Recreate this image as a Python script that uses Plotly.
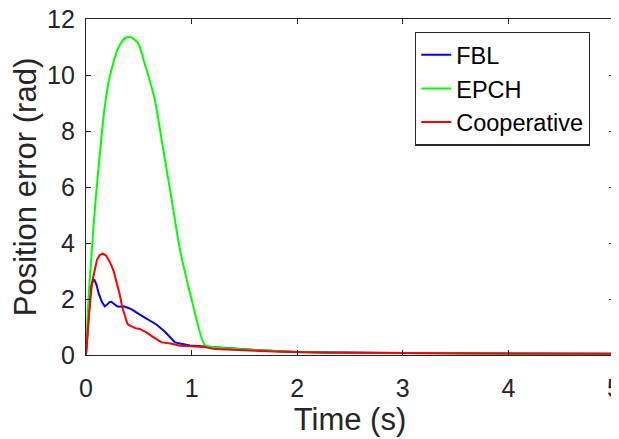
import plotly.graph_objects as go

# FBL response
t_fbl = [0, 0.02, 0.045, 0.07, 0.08, 0.1, 0.12, 0.15, 0.177, 0.2, 0.22, 0.24, 0.265, 0.294, 0.32,
         0.357, 0.4, 0.436, 0.51, 0.59, 0.67, 0.75, 0.843, 0.9, 0.985, 1.127, 1.3, 1.6, 2.0, 2.5,
         3.0, 4.0, 5.0]
e_fbl = [0, 1.2, 2.4, 2.7, 2.68, 2.5, 2.2, 1.9, 1.74, 1.8, 1.88, 1.9, 1.84, 1.74, 1.72,
         1.74, 1.68, 1.62, 1.44, 1.27, 1.08, 0.82, 0.45, 0.4, 0.34, 0.3, 0.25, 0.18, 0.11, 0.08,
         0.07, 0.05, 0.04]

# EPCH response
t_epch = [0, 0.01, 0.025, 0.06, 0.09, 0.123, 0.17, 0.218, 0.26, 0.297, 0.35, 0.38, 0.407, 0.45,
          0.502, 0.549, 0.6, 0.653, 0.732, 0.811, 0.89, 0.969, 1.016, 1.063, 1.127, 1.3, 1.55,
          2.0, 2.5, 3.0, 4.0, 5.0]
e_epch = [0, 1.0, 2.1, 4.0, 5.5, 6.86, 8.64, 9.83, 10.45, 10.9, 11.25, 11.34, 11.36, 11.3,
          11.08, 10.49, 9.85, 9.1, 7.33, 5.55, 3.76, 2.45, 1.74, 1.02, 0.35, 0.25, 0.19,
          0.11, 0.08, 0.07, 0.05, 0.04]

# Cooperative response
t_coop = [0, 0.01, 0.03, 0.057, 0.08, 0.104, 0.13, 0.158, 0.19, 0.23, 0.26, 0.294, 0.32, 0.341,
          0.365, 0.389, 0.4, 0.43, 0.466, 0.51, 0.575, 0.64, 0.717, 0.8, 0.89, 1.0, 1.11, 1.22,
          1.36, 1.58, 1.84, 2.31, 2.8, 3.5, 4.2, 5.0]
e_coop = [0, 0.55, 1.5, 2.58, 3.05, 3.4, 3.57, 3.62, 3.55, 3.29, 3.02, 2.57, 2.15, 1.74,
          1.42, 1.15, 1.08, 1.02, 0.96, 0.93, 0.8, 0.63, 0.45, 0.41, 0.33, 0.31, 0.29, 0.21,
          0.19, 0.14, 0.12, 0.08, 0.07, 0.06, 0.05, 0.04]

fnt = "Liberation Sans, Arial, Helvetica, sans-serif"
axcol = "#262626"

fig = go.Figure()
fig.add_trace(go.Scatter(x=t_fbl, y=e_fbl, mode="lines", name="FBL",
                         line=dict(color="rgb(0,0,255)", width=2)))
fig.add_trace(go.Scatter(x=t_epch, y=e_epch, mode="lines", name="EPCH",
                         line=dict(color="rgb(0,255,0)", width=2, shape="spline", smoothing=0.6)))
fig.add_trace(go.Scatter(x=t_coop, y=e_coop, mode="lines", name="Cooperative",
                         line=dict(color="rgb(255,0,0)", width=2)))

axis_style = dict(showline=True, linecolor=axcol, linewidth=1.3, mirror="ticks",
                  ticks="inside", ticklen=5, tickcolor=axcol, tickwidth=1.3,
                  showgrid=False, zeroline=False, automargin=False,
                  ticklabeloverflow="allow",
                  tickfont=dict(family=fnt, size=25, color=axcol))

fig.update_xaxes(range=[0, 5], dtick=1, ticklabelstandoff=11,
                 title=dict(text="Time (s)", font=dict(family=fnt, size=31, color=axcol), standoff=3),
                 **axis_style)
fig.update_yaxes(range=[0, 12], dtick=2, ticklabelstandoff=5,
                 title=dict(text="Position error (rad)", font=dict(family=fnt, size=31, color=axcol), standoff=11),
                 **axis_style)

# page body has an 8px margin, so the figure is sized to the visible area
fig.update_layout(
    width=611, height=431,
    margin=dict(l=78, r=5, t=11, b=84),
    plot_bgcolor="white", paper_bgcolor="white",
    legend=dict(x=0.623, y=0.962, xanchor="left", yanchor="top",
                bordercolor=axcol, borderwidth=1.3, bgcolor="white",
                font=dict(family=fnt, size=23.5, color="black"), tracegroupgap=0),
)

fig.write_html("out.html")
